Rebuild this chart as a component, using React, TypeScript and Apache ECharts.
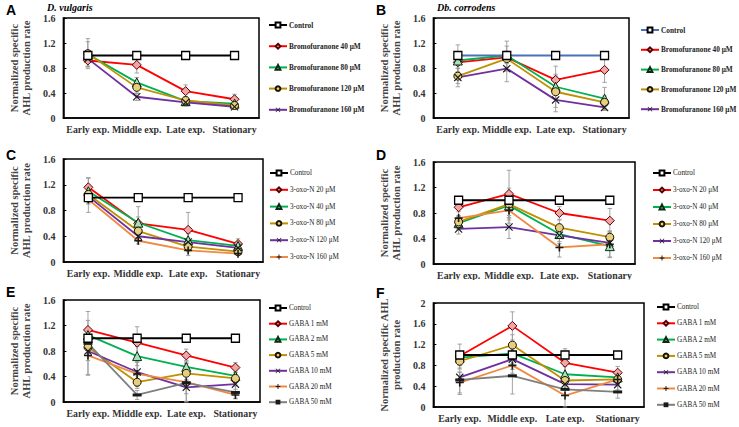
import React, { useEffect, useRef } from 'react';
import * as echarts from 'echarts';

// ---------- data ----------
const categories = ['Early exp.', 'Middle exp.', 'Late exp.', 'Stationary'];

// Panel A — D. vulgaris, bromofuranone
const aControl = [1, 1, 1, 1];
const aB40 = [0.92, 0.85, 0.43, 0.3];
const aB80 = [1.02, 0.57, 0.27, 0.23];
const aB120 = [1.03, 0.49, 0.28, 0.2];
const aB160 = [0.95, 0.34, 0.25, 0.18];
const aErr40 = [0.1, 0.13, 0.1, 0.08];
const aErr80 = [0.2, 0.08, 0.05, 0.04];
const aErr120 = [0.24, 0.1, 0.06, 0.05];
const aErr160 = [0.12, 0.06, 0.06, 0.04];

// Panel B — Db. corrodens, bromofuranone
const bControl = [1, 1, 1, 1];
const bB40 = [0.89, 0.97, 0.61, 0.77];
const bB80 = [0.92, 1.0, 0.5, 0.31];
const bB120 = [0.67, 0.95, 0.42, 0.25];
const bB160 = [0.65, 0.79, 0.29, 0.17];
const bErr40 = [0.15, 0.1, 0.22, 0.2];
const bErr80 = [0.25, 0.23, 0.2, 0.18];
const bErr120 = [0.12, 0.2, 0.25, 0.1];
const bErr160 = [0.15, 0.21, 0.19, 0.05];

// Panel C — 3-oxo-N
const cControl = [1, 1, 1, 1];
const cN20 = [1.16, 0.6, 0.5, 0.28];
const cN40 = [1.1, 0.61, 0.34, 0.25];
const cN80 = [1.05, 0.48, 0.24, 0.16];
const cN120 = [1.02, 0.4, 0.31, 0.22];
const cN160 = [0.97, 0.33, 0.18, 0.13];
const cErr20 = [0.15, 0.1, 0.27, 0.08];
const cErr40 = [0.2, 0.25, 0.1, 0.06];
const cErr80 = [0.1, 0.1, 0.08, 0.05];
const cErr120 = [0.1, 0.08, 0.06, 0.05];
const cErr160 = [0.2, 0.05, 0.08, 0.03];

// Panel D — 3-oxo-N
const dControl = [1, 1, 1, 1];
const dN20 = [0.89, 1.1, 0.8, 0.68];
const dN40 = [0.64, 0.92, 0.47, 0.28];
const dN80 = [0.66, 0.94, 0.57, 0.42];
const dN120 = [0.55, 0.58, 0.45, 0.33];
const dN160 = [0.72, 0.84, 0.26, 0.31];
const dErr20 = [0.15, 0.37, 0.1, 0.19];
const dErr40 = [0.1, 0.2, 0.15, 0.18];
const dErr80 = [0.1, 0.25, 0.12, 0.1];
const dErr120 = [0.08, 0.18, 0.1, 0.08];
const dErr160 = [0.1, 0.2, 0.15, 0.2];

// Panel E — GABA
const eControl = [1, 1, 1, 1];
const eG1 = [1.13, 0.93, 0.73, 0.54];
const eG2 = [1.05, 0.72, 0.55, 0.41];
const eG5 = [0.86, 0.31, 0.45, 0.37];
const eG10 = [0.8, 0.47, 0.23, 0.28];
const eG20 = [0.73, 0.44, 0.31, 0.11];
const eG50 = [0.92, 0.11, 0.3, 0.15];
const eErr1 = [0.15, 0.25, 0.1, 0.08];
const eErr2 = [0.1, 0.15, 0.1, 0.1];
const eErr5 = [0.1, 0.1, 0.1, 0.1];
const eErr10 = [0.15, 0.15, 0.1, 0.08];
const eErr20 = [0.3, 0.2, 0.3, 0.05];
const eErr50 = [0.5, 0.07, 0.3, 0.1];

// Panel F — GABA
const fControl = [1, 1, 1, 1];
const fG1 = [0.98, 1.56, 0.85, 0.66];
const fG2 = [0.95, 1.03, 0.63, 0.57];
const fG5 = [0.88, 1.19, 0.51, 0.53];
const fG10 = [0.57, 0.92, 0.44, 0.43];
const fG20 = [0.47, 0.8, 0.22, 0.53];
const fG50 = [0.52, 0.6, 0.34, 0.29];
const fErr1 = [0.23, 0.27, 0.27, 0.12];
const fErr2 = [0.1, 0.2, 0.15, 0.1];
const fErr5 = [0.15, 0.2, 0.1, 0.1];
const fErr10 = [0.1, 0.2, 0.1, 0.1];
const fErr20 = [0.2, 0.15, 0.22, 0.1];
const fErr50 = [0.28, 0.35, 0.1, 0.12];

// ---------- styles ----------
const SERIF = "'Liberation Serif', 'Times New Roman', serif";
const SANS = "'Liberation Sans', Arial, sans-serif";
const X_SYM = 'path://M1,0L5,4L9,0L10,1L6,5L10,9L9,10L5,6L1,10L0,9L4,5L0,1Z';
const PLUS_SYM = 'path://M4,0H6V4H10V6H6V10H4V6H0V4H4Z';

type Sty = { line: string; width: number; symbol: string; size: any; fill: string; border: string; bw: number };
const S: Record<string, Sty> = {
  ctrl: { line: '#000000', width: 1.8, symbol: 'rect', size: 8, fill: '#ffffff', border: '#000000', bw: 1.3 },
  ctrlBlue: { line: '#4A72B8', width: 1.8, symbol: 'rect', size: 8, fill: '#ffffff', border: '#000000', bw: 1.3 },
  red: { line: '#FF0000', width: 1.8, symbol: 'diamond', size: 9, fill: '#F5A3A3', border: '#5a0000', bw: 1 },
  green: { line: '#00B050', width: 1.8, symbol: 'triangle', size: 9, fill: '#A6E2BA', border: '#0a2a14', bw: 1 },
  gold: { line: '#BF9000', width: 1.8, symbol: 'circle', size: 8, fill: '#E8CF7E', border: '#1a1400', bw: 1 },
  purple: { line: '#7030A0', width: 1.8, symbol: X_SYM, size: 8, fill: '#1a1a1a', border: '#1a1a1a', bw: 0 },
  orange: { line: '#F08A42', width: 1.8, symbol: PLUS_SYM, size: 8, fill: '#1a1a1a', border: '#1a1a1a', bw: 0 },
  grey: { line: '#7F7F7F', width: 1.8, symbol: 'rect', size: [9, 3], fill: '#1a1a1a', border: '#1a1a1a', bw: 0 },
};

type Ser = { name: string; data: number[]; err?: number[]; sty: Sty };
type Panel = {
  box: number[]; letter: string; letterTop: number; title?: string; titleLeft?: number;
  grid: { left: number; top: number; width: number; height: number };
  yMax: number; yName: string; nameGap: number;
  legend: { left: number; top: number; gap: number; size: number; weight: string };
  series: Ser[];
};

const YN = 'Normalized specific\nAHL production rate';

const panels: Panel[] = [
  {
    box: [0, 0, 369, 140], letter: 'A', letterTop: 3, title: 'D. vulgaris', titleLeft: 47,
    grid: { left: 49, top: 18, width: 210, height: 100 }, yMax: 1.6, yName: YN, nameGap: 21,
    legend: { left: 268, top: 20, gap: 11.2, size: 7.3, weight: 'bold' },
    series: [
      { name: 'Control', data: aControl, sty: S.ctrl },
      { name: 'Bromofuranone 40 μM', data: aB40, err: aErr40, sty: S.red },
      { name: 'Bromofuranone 80 μM', data: aB80, err: aErr80, sty: S.green },
      { name: 'Bromofuranone 120 μM', data: aB120, err: aErr120, sty: S.gold },
      { name: 'Bromofuranone 160 μM', data: aB160, err: aErr160, sty: S.purple },
    ],
  },
  {
    box: [370, 0, 369, 140], letter: 'B', letterTop: 3, title: 'Db. corrodens', titleLeft: 67,
    grid: { left: 58, top: 18, width: 201, height: 100 }, yMax: 1.6, yName: YN, nameGap: 30,
    legend: { left: 270, top: 25, gap: 9.8, size: 7.3, weight: 'bold' },
    series: [
      { name: 'Control', data: bControl, sty: S.ctrlBlue },
      { name: 'Bromofuranone 40 μM', data: bB40, err: bErr40, sty: S.red },
      { name: 'Bromofuranone 80 μM', data: bB80, err: bErr80, sty: S.green },
      { name: 'Bromofuranone 120 μM', data: bB120, err: bErr120, sty: S.gold },
      { name: 'Bromofuranone 160 μM', data: bB160, err: bErr160, sty: S.purple },
    ],
  },
  {
    box: [0, 140, 369, 140], letter: 'C', letterTop: 8,
    grid: { left: 56, top: 19, width: 207, height: 103 }, yMax: 1.6, yName: YN, nameGap: 29,
    legend: { left: 269, top: 28, gap: 6.8, size: 7.2, weight: 'normal' },
    series: [
      { name: 'Control', data: cControl, sty: S.ctrl },
      { name: '3-oxo-N 20 μM', data: cN20, err: cErr20, sty: S.red },
      { name: '3-oxo-N 40 μM', data: cN40, err: cErr40, sty: S.green },
      { name: '3-oxo-N 80 μM', data: cN80, err: cErr80, sty: S.gold },
      { name: '3-oxo-N 120 μM', data: cN120, err: cErr120, sty: S.purple },
      { name: '3-oxo-N 160 μM', data: cN160, err: cErr160, sty: S.orange },
    ],
  },
  {
    box: [370, 140, 369, 140], letter: 'D', letterTop: 8,
    grid: { left: 60, top: 22, width: 205, height: 104 }, yMax: 1.6, yName: YN, nameGap: 27,
    legend: { left: 282, top: 28, gap: 7, size: 7.2, weight: 'normal' },
    series: [
      { name: 'Control', data: dControl, sty: S.ctrl },
      { name: '3-oxo-N 20 μM', data: dN20, err: dErr20, sty: S.red },
      { name: '3-oxo-N 40 μM', data: dN40, err: dErr40, sty: S.green },
      { name: '3-oxo-N 80 μM', data: dN80, err: dErr80, sty: S.gold },
      { name: '3-oxo-N 120 μM', data: dN120, err: dErr120, sty: S.purple },
      { name: '3-oxo-N 160 μM', data: dN160, err: dErr160, sty: S.orange },
    ],
  },
  {
    box: [0, 280, 369, 147], letter: 'E', letterTop: 5,
    grid: { left: 55, top: 20, width: 205, height: 102 }, yMax: 1.6, yName: YN, nameGap: 27,
    legend: { left: 268, top: 23, gap: 5.7, size: 7.2, weight: 'normal' },
    series: [
      { name: 'Control', data: eControl, sty: S.ctrl },
      { name: 'GABA 1 mM', data: eG1, err: eErr1, sty: S.red },
      { name: 'GABA 2 mM', data: eG2, err: eErr2, sty: S.green },
      { name: 'GABA 5 mM', data: eG5, err: eErr5, sty: S.gold },
      { name: 'GABA 10 mM', data: eG10, err: eErr10, sty: S.purple },
      { name: 'GABA 20 mM', data: eG20, err: eErr20, sty: S.orange },
      { name: 'GABA 50 mM', data: eG50, err: eErr50, sty: S.grey },
    ],
  },
  {
    box: [370, 280, 369, 147], letter: 'F', letterTop: 6,
    grid: { left: 60, top: 23, width: 214, height: 104 }, yMax: 2, yName: 'Normalized specific AHL\nproduction rate', nameGap: 25,
    legend: { left: 286, top: 22, gap: 6.3, size: 7.2, weight: 'normal' },
    series: [
      { name: 'Control', data: fControl, sty: S.ctrl },
      { name: 'GABA 1 mM', data: fG1, err: fErr1, sty: S.red },
      { name: 'GABA 2 mM', data: fG2, err: fErr2, sty: S.green },
      { name: 'GABA 5 mM', data: fG5, err: fErr5, sty: S.gold },
      { name: 'GABA 10 mM', data: fG10, err: fErr10, sty: S.purple },
      { name: 'GABA 20 mM', data: fG20, err: fErr20, sty: S.orange },
      { name: 'GABA 50 mM', data: fG50, err: fErr50, sty: S.grey },
    ],
  },
];

function errRender(params: any, api: any) {
  const x = api.value(0);
  const lo = api.coord([x, api.value(1)]);
  const hi = api.coord([x, api.value(2)]);
  const h = 2.2;
  const st = { stroke: '#9a9a9a', lineWidth: 0.9, fill: 'none' };
  return {
    type: 'group',
    children: [
      { type: 'line', shape: { x1: lo[0], y1: lo[1], x2: hi[0], y2: hi[1] }, style: st },
      { type: 'line', shape: { x1: lo[0] - h, y1: lo[1], x2: lo[0] + h, y2: lo[1] }, style: st },
      { type: 'line', shape: { x1: hi[0] - h, y1: hi[1], x2: hi[0] + h, y2: hi[1] }, style: st },
    ],
  };
}

function buildOption(p: Panel): any {
  const errData: number[][] = [];
  p.series.forEach((s) => {
    if (!s.err) return;
    s.err.forEach((e, i) => {
      if (e > 0) errData.push([i, Math.max(0, s.data[i] - e), s.data[i] + e]);
    });
  });
  const series: any[] = [
    {
      type: 'custom', name: 'error bars', data: errData, renderItem: errRender, z: 1, silent: true,
      encode: { x: 0, y: [1, 2] },
    },
  ];
  p.series.forEach((s, idx) => {
    series.push({
      type: 'line', name: s.name, data: s.data, symbol: s.sty.symbol, symbolSize: s.sty.size,
      showAllSymbol: true, z: 3 + (idx === 0 ? 10 : 0),
      lineStyle: { color: s.sty.line, width: s.sty.width },
      itemStyle: { color: s.sty.fill, borderColor: s.sty.border, borderWidth: s.sty.bw },
      emphasis: { disabled: true },
    });
  });
  const axisFont = { fontFamily: SERIF, fontSize: 9.8, fontWeight: 'bold', color: '#333' };
  return {
    animation: false,
    title: [
      { text: p.letter, left: 6, top: p.letterTop, padding: 0, textStyle: { fontFamily: SANS, fontSize: 14, fontWeight: 'bold', color: '#000' } },
      ...(p.title
        ? [{ text: p.title, left: p.titleLeft, top: 2, padding: 0, textStyle: { fontFamily: SERIF, fontSize: 10, fontWeight: 'bold', fontStyle: 'italic', color: '#000' } }]
        : []),
    ],
    grid: { ...p.grid, show: true, borderColor: '#000', borderWidth: 1.5, backgroundColor: 'transparent', containLabel: false },
    legend: {
      orient: 'vertical', left: p.legend.left, top: p.legend.top, itemGap: p.legend.gap,
      itemWidth: 18, itemHeight: 6, padding: 0, selectedMode: false,
      data: p.series.map((s) => s.name),
      textStyle: { fontFamily: SERIF, fontSize: p.legend.size, fontWeight: p.legend.weight, color: '#222', lineHeight: 10, padding: [0, 0, 0, -3] },
    },
    xAxis: {
      type: 'category', data: categories, boundaryGap: true,
      axisLine: { lineStyle: { color: '#000', width: 1.5 } },
      axisTick: { inside: true, length: 3, lineStyle: { color: '#000', width: 1 } },
      axisLabel: { ...axisFont, margin: 6, interval: 0 },
      splitLine: { show: false },
    },
    yAxis: {
      type: 'value', min: 0, max: p.yMax, interval: 0.4,
      name: p.yName, nameLocation: 'middle', nameGap: p.nameGap, nameRotate: 90,
      nameTextStyle: { fontFamily: SERIF, fontSize: 10.5, fontWeight: 'bold', color: '#444', lineHeight: 12 },
      axisLine: { show: true, lineStyle: { color: '#000', width: 1.5 } },
      axisTick: { show: true, inside: true, length: 3, lineStyle: { color: '#000', width: 1 } },
      axisLabel: { ...axisFont, fontSize: 10, margin: 8, formatter: (v: number) => String(Number(v.toFixed(1))) },
      splitLine: { show: false },
    },
    series,
  };
}

function ChartPanel({ p }: { p: Panel }) {
  const ref = useRef<HTMLDivElement>(null);
  useEffect(() => {
    if (!ref.current) return;
    const chart = echarts.init(ref.current, undefined, { renderer: 'svg' });
    chart.setOption(buildOption(p));
    return () => chart.dispose();
  }, [p]);
  return (
    <div
      ref={ref}
      style={{ position: 'absolute', left: p.box[0], top: p.box[1], width: p.box[2], height: p.box[3] }}
    />
  );
}

export default function App() {
  return (
    <div style={{ position: 'absolute', left: 0, top: 0, width: 739, height: 427, background: '#fff', overflow: 'hidden' }}>
      {panels.map((p) => (
        <ChartPanel key={p.letter} p={p} />
      ))}
    </div>
  );
}
